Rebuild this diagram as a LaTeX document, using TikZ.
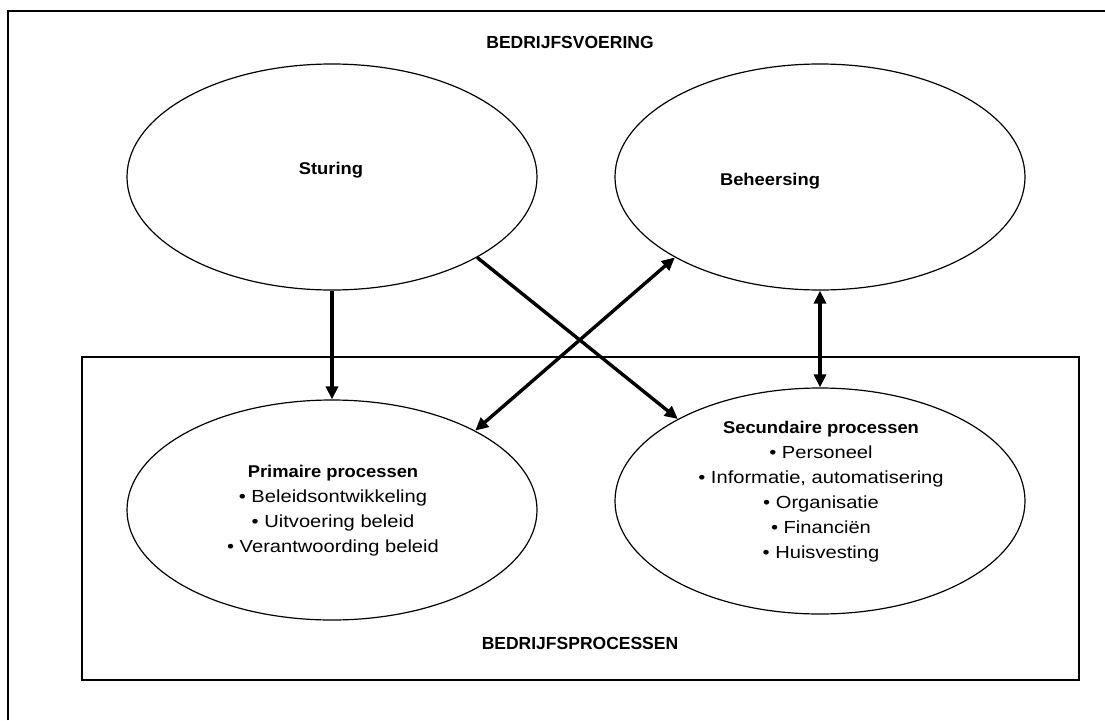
\documentclass[tikz,border=0pt]{standalone}
\usepackage{fontspec}
\setmainfont{Liberation Sans}
\newfontfamily\bodyfont[FakeStretch=1.15]{Liberation Sans}
\newfontfamily\headfont[FakeStretch=1.08]{Liberation Sans}
\usetikzlibrary{shapes.geometric,arrows.meta}
\begin{document}
\begin{tikzpicture}[x=1pt,y=-1pt,
  oval/.style={ellipse,draw,line width=1.2pt,inner sep=0pt,minimum width=410pt},
  tip/.tip={Triangle[length=13pt,width=12pt]},
  arr/.style={line width=3.4pt,-tip},
  darr/.style={line width=3.4pt,tip-tip},
  captxt/.style={font=\fontsize{17.5}{21}\selectfont\bfseries},
  headtxt/.style={font=\headfont\fontsize{17}{20}\selectfont\bfseries},
  listtxt/.style={align=center,inner sep=0pt,font=\bodyfont\fontsize{17.5}{25}\selectfont},
]
\useasboundingbox (0,0) rectangle (1105,720);
% outer frame (open at right and bottom)
\draw[line width=2pt] (8,720) -- (8,11) -- (1105,11);
% inner box
\node[draw,line width=1.3pt,inner sep=0pt,minimum width=997pt,minimum height=323pt] (box) at (580.5,518.5) {};
% ellipses
\node[oval,minimum height=226pt] (st) at (332,177) {};
\node[oval,minimum height=226pt] (be) at (820,177) {};
\node[oval,minimum height=220pt] (pr) at (332,510) {};
\node[oval,minimum height=226pt] (se) at (820,501) {};
% texts
\node[captxt] (t1) at (570,42) {BEDRIJFSVOERING};
\node[captxt] (t2) at (580,643) {BEDRIJFSPROCESSEN};
\node[headtxt] (t3) at (331,170) {Sturing};
\node[headtxt] (t4) at (770,181) {Beheersing};
\node[listtxt] (t5) at (333,511) {{\headfont\fontsize{17}{25}\selectfont\bfseries Primaire processen}\\
  • Beleidsontwikkeling\\ • Uitvoering beleid\\ • Verantwoording beleid};
\node[listtxt] (t6) at (821,492) {{\headfont\fontsize{17}{25}\selectfont\bfseries Secundaire processen}\\
  • Personeel\\ • Informatie, automatisering\\ • Organisatie\\ • Financiën\\ • Huisvesting};
% connectors
\draw[arr] (st.south) -- (pr.north);
\draw[arr] (st.-29.4) -- (se.150);
\draw[darr] (pr.29.8) -- (be.-151);
\draw[darr] (be.south) -- (se.north);
\end{tikzpicture}
\end{document}
